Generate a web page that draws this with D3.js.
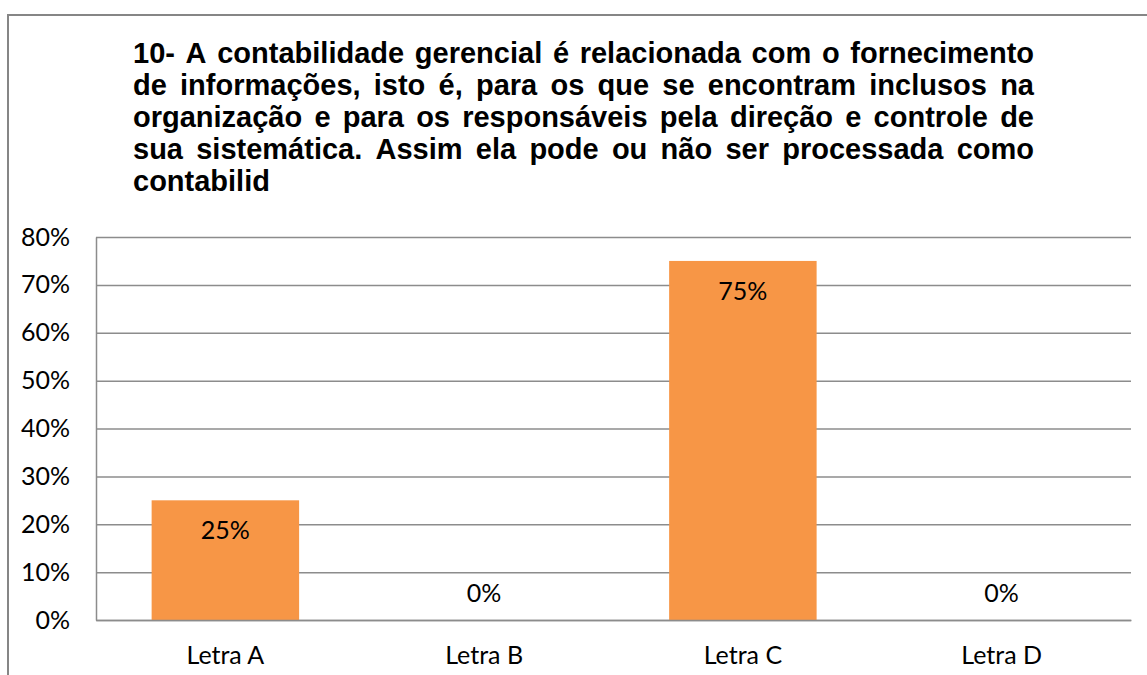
<!DOCTYPE html>
<html>
<head>
<meta charset="utf-8">
<script src="https://cdn.jsdelivr.net/npm/d3@7"></script>
<style>
  body { margin: 0; background: white; }
</style>
</head>
<body>
<svg id="chart"></svg>
<script>
//chart data
const categories = ["Letra A", "Letra B", "Letra C", "Letra D"];
const values = [0.25, 0, 0.75, 0];
const yTicks = [0, 0.1, 0.2, 0.3, 0.4, 0.5, 0.6, 0.7, 0.8];
const titleLines = [
    "10- A contabilidade gerencial é relacionada com o fornecimento",
    "de informações, isto é, para os que se encontram inclusos na",
    "organização e para os responsáveis pela direção e controle de",
    "sua sistemática. Assim ela pode ou não ser processada como",
    "contabilid"
];

const width = 1147;
const height = 675;
const margin = { top: 237, right: 16, bottom: 55, left: 96 };
const innerW = 1131 - margin.left;
const innerH = 620 - margin.top;
const labelFont = "Lato, 'Open Sans', sans-serif";

const svg = d3.select("#chart")
    .attr("width", width)
    .attr("height", height);

//outer frame (cropped on right and bottom)
svg.append("rect")
    .attr("x", 8)
    .attr("y", 15)
    .attr("width", 1300)
    .attr("height", 900)
    .attr("fill", "white")
    .attr("stroke", "#868686")
    .attr("stroke-width", 2);

//title, justified
const titleG = svg.append("g")
    .style("font-family", "'Liberation Sans', Arial, sans-serif")
    .style("font-weight", "bold")
    .style("font-size", "29px")
    .style("fill", "black");

const titleLeft = 133;
const titleRight = 1034;
titleLines.forEach((line, i) => {
    const words = line.split(" ");
    const yPos = 63 + i * 32;
    const last = i === titleLines.length - 1;
    const nodes = words.map(w => titleG.append("text").attr("y", yPos).text(w));
    const widths = nodes.map(n => n.node().getComputedTextLength());
    const total = d3.sum(widths);
    const gap = last ? 8 : (titleRight - titleLeft - total) / (words.length - 1);
    let xPos = titleLeft;
    nodes.forEach((n, k) => {
        n.attr("x", xPos);
        xPos += widths[k] + gap;
    });
});

const g = svg.append("g")
    .attr("transform", `translate(${margin.left},${margin.top})`);

const x = d3.scaleBand()
    .domain(categories)
    .range([0, innerW])
    .paddingInner(0.43)
    .paddingOuter(0.215);

const xCenter = d3.scaleBand()
    .domain(categories)
    .range([0, innerW]);

const y = d3.scaleLinear()
    .domain([0, 0.8])
    .range([innerH, 0]);

//gridlines
g.append("g")
    .call(d3.axisLeft(y)
        .tickValues(yTicks)
        .tickSize(-innerW)
        .tickFormat("")
    )
    .call(a => a.select(".domain").remove())
    .selectAll("line")
    .attr("stroke", "#8c8c8c")
    .attr("stroke-width", 1.5);

//bars
g.selectAll("rect.bar")
    .data(categories)
    .join("rect")
    .attr("class", "bar")
    .attr("x", d => x(d))
    .attr("width", x.bandwidth())
    .attr("y", (d, i) => y(values[i]))
    .attr("height", (d, i) => innerH - y(values[i]))
    .attr("fill", "#F79646");

//y axis
g.append("g")
    .call(d3.axisLeft(y)
        .tickValues(yTicks)
        .tickSize(0)
        .tickPadding(26)
        .tickFormat(d3.format(".0%"))
    )
    .call(a => a.select(".domain")
        .attr("stroke", "#8c8c8c")
        .attr("stroke-width", 1.5))
    .selectAll("text")
    .style("font-family", labelFont)
    .style("font-size", "25px")
    .style("fill", "black");

//x axis
g.append("g")
    .attr("transform", `translate(0,${innerH})`)
    .call(d3.axisBottom(xCenter)
        .tickSize(0)
        .tickPadding(26)
    )
    .call(a => a.select(".domain")
        .attr("stroke", "#8c8c8c")
        .attr("stroke-width", 1.5))
    .selectAll("text")
    .style("font-family", labelFont)
    .style("font-size", "25px")
    .style("fill", "black");

//data labels
g.selectAll("text.val")
    .data(categories)
    .join("text")
    .attr("class", "val")
    .attr("x", d => xCenter(d) + xCenter.bandwidth() / 2)
    .attr("y", (d, i) => values[i] > 0.1 ? y(values[i]) + 30 : y(values[i]) - 27)
    .attr("dy", "0.35em")
    .attr("text-anchor", "middle")
    .style("font-family", labelFont)
    .style("font-size", "25px")
    .style("fill", "black")
    .text((d, i) => d3.format(".0%")(values[i]));
</script>
</body>
</html>
